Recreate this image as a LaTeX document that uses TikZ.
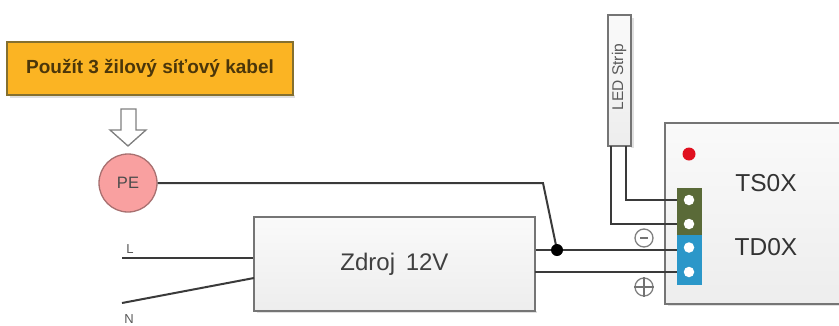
\documentclass[tikz,border=0pt]{standalone}
\usepackage{fontspec}
\setmainfont{Liberation Sans}
\usetikzlibrary{calc}
\definecolor{wire}{HTML}{3A3A3A}
\definecolor{edgeg}{HTML}{757575}
\definecolor{banner}{HTML}{FBB423}
\definecolor{bannerline}{HTML}{85702F}
\definecolor{pink}{HTML}{F9A0A0}
\definecolor{pinkline}{HTML}{A87070}
\definecolor{termgreen}{HTML}{5A6A38}
\definecolor{termblue}{HTML}{2B97C9}
\definecolor{ledred}{HTML}{E0101F}
\tikzset{
  wireline/.style={draw=wire,line width=2pt},
  softshadow/.style={fill=black!12,draw=none},
  boxstyle/.style={draw=edgeg,line width=1.2pt,top color=white!98!black,bottom color=black!7,inner sep=0pt},
  hole/.style={circle,fill=white,draw=none,minimum size=10.5pt,inner sep=0pt},
  tinylabel/.style={text=black!65,font=\fontsize{13}{14}\selectfont,inner sep=0pt},
  biglabel/.style={text=black!80,font=\fontsize{24.5}{26}\selectfont,inner sep=0pt},
  polarity/.style={circle,draw=black!50,line width=1.3pt,minimum size=18pt,inner sep=0pt}
}
\begin{document}
\begin{tikzpicture}[x=1pt,y=-1pt]
\useasboundingbox (0,0) rectangle (839,325);
\fill[white] (0,0) rectangle (839,325);
% shadows
\fill[softshadow] (10,95) rectangle (295,98);
\fill[softshadow] (257,311) rectangle (537,313);
\fill[softshadow] (668,304) rectangle (839,306);
\fill[softshadow] (631,18) rectangle (634,148);
% banner
\node[draw=bannerline,line width=1.2pt,fill=banner,minimum width=286pt,minimum height=53pt,inner sep=0pt,text=black!70!banner,font=\bfseries\fontsize{19}{21}\selectfont] (banner) at (150,68.5) {Použít 3 žilový síťový kabel};
% hollow arrow
\draw[draw=black!50,fill=white,line width=1.3pt,line join=miter] (121,109) -- (136,109) -- (136,130) -- (146,130) -- (128,146) -- (110,130) -- (121,130) -- cycle;
% PE
\node[circle,draw=pinkline,line width=1.3pt,fill=pink,minimum size=58pt,inner sep=0pt,text=black!70,font=\fontsize{16.5}{18}\selectfont] (pe) at (128,183) {PE};
% power supply
\node[boxstyle,minimum width=281pt,minimum height=94pt,text=black!75,font=\fontsize{24}{26}\selectfont] (psu) at (394.5,264) {Zdroj\, 12V};
% module
\path[boxstyle] (665,123) rectangle (845,304);
\draw[draw=edgeg,line width=1.2pt] (839.6,123) -- (665,123) -- (665,304) -- (839.6,304);
\node[circle,fill=ledred,minimum size=13pt,inner sep=0pt] (led) at (689,154) {};
\node[biglabel] (ts) at (766,183) {TS0X};
\node[biglabel] (td) at (766,247) {TD0X};
% strip
\node[boxstyle,minimum width=23pt,minimum height=131pt] (strip) at (619.5,80.5) {};
\node[rotate=90,text=black!65,font=\fontsize{15.5}{17}\selectfont,inner sep=0pt] (striplabel) at (619,77) {LED Strip};
% terminals
\node[fill=termgreen,minimum width=25pt,minimum height=47pt,inner sep=0pt] (tg) at (689.5,211.5) {};
\node[fill=termblue,minimum width=25pt,minimum height=50pt,inner sep=0pt] (tb) at (689.5,260) {};
\node[hole] (h1) at (689,200) {};
\node[hole] (h2) at (689,224) {};
\node[hole] (h3) at (689,247.5) {};
\node[hole] (h4) at (689,272) {};
% free ends
\coordinate (lend) at (122,258);
\coordinate (nend) at (122,303);
\coordinate (lin) at (psu.west |- lend);
\coordinate (nin) at (254,278);
\coordinate (jn) at (557,250);
\coordinate (bend) at (543,183);
\coordinate (outa) at (psu.east |- jn);
\coordinate (outb) at (535,272);
\coordinate (ina) at (tb.west |- jn);
\coordinate (inb) at (tb.west |- outb);
\coordinate (sa) at (610.5,146);
\coordinate (sb) at (626,146);
\coordinate (ga) at (tg.west |- h1);
\coordinate (gb) at (tg.west |- h2);
% wires
\draw[wireline] (lend) -- (lin);
\draw[wireline] (nend) -- (nin);
\draw[wireline] (pe.east) -- (bend) -- (jn);
\draw[wireline] (outa) -- (ina);
\draw[wireline] (outb) -- (inb);
\draw[wireline] (sb) |- (ga);
\draw[wireline] (sa) |- (gb);
\node[circle,fill=black,minimum size=12pt,inner sep=0pt] (dot) at (jn) {};
% labels
\node[tinylabel] (ll) at (130,249) {L};
\node[tinylabel] (nl) at (129,319) {N};
% polarity
\node[polarity] (minus) at (644,238) {};
\draw[draw=black!55,line width=1.3pt] ($(minus)+(-4,0)$) -- ($(minus)+(4,0)$);
\node[polarity] (plus) at (644,287) {};
\draw[draw=black!55,line width=1.2pt] (plus.west) -- (plus.east);
\draw[draw=black!55,line width=1.2pt] (plus.north) -- (plus.south);
\end{tikzpicture}
\end{document}
